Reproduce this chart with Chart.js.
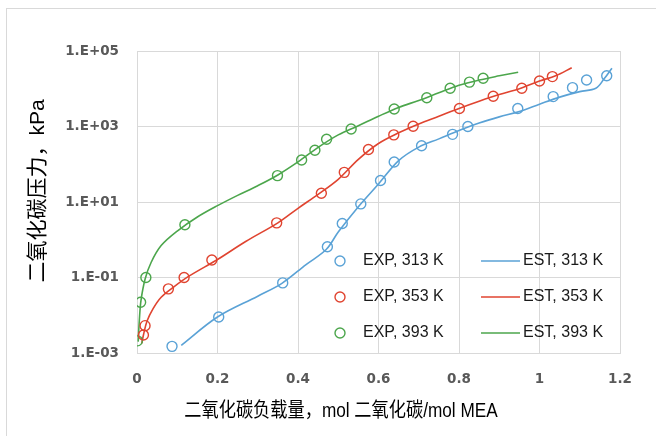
<!DOCTYPE html>
<html>
<head>
<meta charset="utf-8">
<script src="https://cdn.jsdelivr.net/npm/chart.js@4"></script>
<style>
  body { margin: 0; background: #fff; }
  #wrap { position: relative; width: 656px; height: 436px; }
</style>
</head>
<body>
<div id="wrap"><canvas id="vle" width="656" height="436"></canvas></div>
<script>
// experimental points
const exp313X = [0.087, 0.203, 0.362, 0.473, 0.510, 0.556, 0.605, 0.639, 0.707, 0.784, 0.822, 0.946, 1.034, 1.082, 1.117, 1.167];
const exp313Y = [0.0015, 0.009, 0.072, 0.65, 2.7, 8.9, 37, 115, 310, 620, 1000, 3000, 6200, 10700, 17000, 22000];
const exp353X = [0.016, 0.020, 0.078, 0.117, 0.186, 0.347, 0.458, 0.515, 0.575, 0.638, 0.686, 0.801, 0.885, 0.956, 1.000, 1.032];
const exp353Y = [0.003, 0.0053, 0.05, 0.1, 0.29, 2.8, 17, 61, 245, 600, 1020, 3000, 6300, 10300, 16000, 21000];
const exp393X = [0.001, 0.009, 0.022, 0.119, 0.349, 0.409, 0.442, 0.471, 0.532, 0.639, 0.720, 0.778, 0.826, 0.860];
const exp393Y = [0.0021, 0.022, 0.1, 2.5, 50, 130, 235, 460, 860, 2900, 5800, 10300, 15000, 19000];

// estimated curves
const est313X = [0.11, 0.2, 0.3, 0.36, 0.42, 0.47, 0.5, 0.55, 0.6, 0.65, 0.7, 0.75, 0.8, 0.85, 0.9, 0.95, 1.0, 1.05, 1.1, 1.14, 1.16, 1.18];
const est313Y = [0.0016, 0.009, 0.032, 0.07, 0.22, 0.55, 1.6, 7.5, 30, 125, 285, 470, 780, 1230, 1800, 2500, 3900, 6000, 8400, 10300, 18000, 35000];
const est353X = [0.012, 0.016, 0.025, 0.04, 0.06, 0.09, 0.13, 0.2, 0.27, 0.35, 0.4, 0.45, 0.5, 0.55, 0.6, 0.65, 0.7, 0.75, 0.8, 0.85, 0.9, 0.95, 1.0, 1.04, 1.08];
const est353Y = [0.0018, 0.003, 0.007, 0.015, 0.03, 0.055, 0.11, 0.3, 0.9, 2.8, 6.8, 16, 40, 135, 355, 680, 1170, 1870, 3000, 4650, 7000, 10000, 16000, 22000, 36000];
const est393X = [0.003, 0.006, 0.01, 0.02, 0.035, 0.06, 0.1, 0.15, 0.2, 0.25, 0.3, 0.35, 0.4, 0.45, 0.5, 0.55, 0.6, 0.65, 0.7, 0.75, 0.8, 0.85, 0.9, 0.947];
const est393Y = [0.002, 0.008, 0.025, 0.09, 0.25, 0.7, 1.7, 4, 8, 15, 27, 52, 115, 280, 600, 1050, 1870, 3200, 4900, 7800, 12300, 17000, 22000, 27500];

const xTickLabels = ['0', '0.2', '0.4', '0.6', '0.8', '1', '1.2'];
const yTickValues = [0.001, 0.1, 10, 1000, 100000];
const yTickLabels = ['1.E-03', '1.E-01', '1.E+01', '1.E+03', '1.E+05'];

const xTitle = '二氧化碳负载量，mol 二氧化碳/mol MEA';
const yTitle = '二氧化碳压力，kPa';

const BLUE = '#5aa2d6', RED = '#e04430', GREEN = '#4ca64c';
const GRID = '#d9d9d9';
const TICK_FONT = { family: '"DejaVu Sans", sans-serif', size: 13.5, weight: 'bold' };

const pts = (xs, ys) => xs.map((x, i) => ({ x: x, y: ys[i] }));

function expSet(label, xs, ys, color) {
  return {
    label: label, data: pts(xs, ys), showLine: false,
    pointStyle: 'circle', pointRadius: 5, pointBorderWidth: 1.4,
    borderColor: color, backgroundColor: 'rgba(0,0,0,0)', kind: 'exp'
  };
}
function estSet(label, xs, ys, color) {
  return {
    label: label, data: pts(xs, ys), showLine: true, pointRadius: 0,
    borderColor: color, borderWidth: 1.6, tension: 0.35, kind: 'est'
  };
}

// frame, axis titles and the two-column legend
const decor = {
  id: 'decor',
  beforeDraw(chart) {
    const c = chart.ctx;
    c.save();
    c.fillStyle = '#fff';
    c.fillRect(0, 0, chart.width, chart.height);
    c.strokeStyle = GRID;
    c.lineWidth = 1;
    c.strokeRect(6.5, 8.5, 700, 500);
    c.restore();
  },
  afterDraw(chart) {
    const c = chart.ctx;
    c.save();
    c.fillStyle = '#000';
    c.textAlign = 'center';
    c.textBaseline = 'middle';
    c.font = '20px "Liberation Sans", "Noto Sans CJK SC", sans-serif';
    c.translate(341, 411);
    c.scale(0.86, 1);
    c.fillText(xTitle, 0, 0);
    c.restore();

    c.save();
    c.fillStyle = '#000';
    c.textAlign = 'center';
    c.textBaseline = 'middle';
    c.font = '21px "Liberation Sans", "Noto Sans CJK SC", sans-serif';
    c.translate(38, 191);
    c.rotate(-Math.PI / 2);
    c.fillText(yTitle, 0, 0);
    c.restore();

    c.save();
    c.font = '16px "Liberation Sans", Arial, sans-serif';
    c.textBaseline = 'middle';
    c.textAlign = 'left';
    const rows = [261, 297, 333];
    chart.data.datasets.forEach((ds, i) => {
      const y = rows[i % 3];
      c.strokeStyle = ds.borderColor;
      if (ds.kind === 'exp') {
        c.lineWidth = 1.4;
        c.beginPath();
        c.arc(340, y, 5, 0, Math.PI * 2);
        c.stroke();
        c.fillStyle = '#1a1a1a';
        c.fillText(ds.label, 363, y);
      } else {
        c.lineWidth = 1.6;
        c.beginPath();
        c.moveTo(481, y);
        c.lineTo(520, y);
        c.stroke();
        c.fillStyle = '#1a1a1a';
        c.fillText(ds.label, 523, y);
      }
    });
    c.restore();
  }
};

new Chart(document.getElementById('vle'), {
  type: 'scatter',
  data: {
    datasets: [
      expSet('EXP, 313 K', exp313X, exp313Y, BLUE),
      expSet('EXP, 353 K', exp353X, exp353Y, RED),
      expSet('EXP, 393 K', exp393X, exp393Y, GREEN),
      estSet('EST, 313 K', est313X, est313Y, BLUE),
      estSet('EST, 353 K', est353X, est353Y, RED),
      estSet('EST, 393 K', est393X, est393Y, GREEN)
    ]
  },
  options: {
    responsive: false,
    animation: false,
    layout: { padding: { top: 51, right: 36, left: 0, bottom: 0 } },
    scales: {
      x: {
        type: 'linear', min: 0, max: 1.2,
        afterFit: s => { s.height = 83; },
        grid: { color: GRID, drawTicks: false },
        border: { color: GRID },
        ticks: {
          stepSize: 0.2, padding: 18, color: '#595959', font: TICK_FONT,
          callback: (v, i) => xTickLabels[i]
        }
      },
      y: {
        type: 'logarithmic', min: 0.001, max: 100000,
        afterFit: s => { s.width = 137; },
        afterBuildTicks: s => { s.ticks = yTickValues.map(v => ({ value: v })); },
        grid: { color: GRID, drawTicks: false },
        border: { color: GRID },
        ticks: {
          padding: 18, color: '#595959', font: TICK_FONT,
          callback: (v, i) => yTickLabels[i]
        }
      }
    },
    plugins: {
      legend: { display: false },
      tooltip: { enabled: false }
    }
  },
  plugins: [decor]
});
</script>
</body>
</html>
